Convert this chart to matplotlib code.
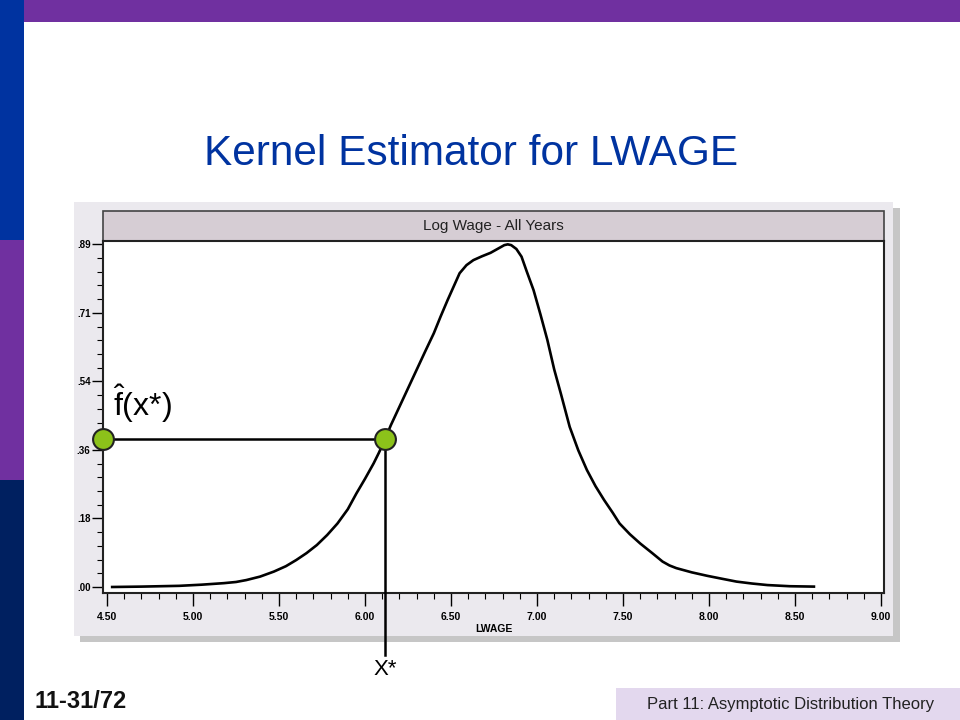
import matplotlib
matplotlib.use("Agg")
import matplotlib.pyplot as plt
from matplotlib.patches import Rectangle
from matplotlib.ticker import MultipleLocator, FixedLocator

plt.rcParams["mathtext.fontset"] = "custom"
plt.rcParams["mathtext.rm"] = "Liberation Sans"
plt.rcParams["mathtext.it"] = "Liberation Sans"

# ---- data ----
lwage = [4.53, 4.70, 4.92, 5.05, 5.18, 5.25, 5.31, 5.39, 5.47, 5.54, 5.60, 5.66,
         5.72, 5.78, 5.84, 5.90, 5.95, 6.00, 6.05, 6.08, 6.11, 6.15, 6.20, 6.25,
         6.30, 6.35, 6.40, 6.44, 6.48, 6.52, 6.55, 6.59, 6.63, 6.68, 6.73, 6.77,
         6.81, 6.83, 6.85, 6.88, 6.91, 6.94, 6.98, 7.02, 7.06, 7.10, 7.14, 7.19,
         7.24, 7.29, 7.34, 7.39, 7.44, 7.48, 7.54, 7.60, 7.67, 7.73, 7.77, 7.81,
         7.90, 7.99, 8.08, 8.16, 8.25, 8.34, 8.47, 8.61]
density = [0.000, 0.001, 0.003, 0.006, 0.010, 0.013, 0.018, 0.027, 0.040, 0.054, 0.070, 0.088,
           0.109, 0.135, 0.165, 0.202, 0.243, 0.281, 0.321, 0.348, 0.377, 0.420, 0.468, 0.516,
           0.564, 0.612, 0.659, 0.703, 0.745, 0.785, 0.815, 0.836, 0.849, 0.859, 0.868, 0.878,
           0.888, 0.890, 0.888, 0.878, 0.858, 0.820, 0.771, 0.708, 0.642, 0.565, 0.500, 0.416,
           0.355, 0.304, 0.262, 0.226, 0.193, 0.165, 0.137, 0.113, 0.088, 0.066, 0.056, 0.049,
           0.038, 0.029, 0.021, 0.014, 0.009, 0.005, 0.002, 0.001]
x_star = 6.116
f_x_star = 0.384
x_ticks = [4.5, 5.0, 5.5, 6.0, 6.5, 7.0, 7.5, 8.0, 8.5, 9.0]
x_tick_labels = ["4.50", "5.00", "5.50", "6.00", "6.50", "7.00", "7.50", "8.00", "8.50", "9.00"]
y_ticks = [0.0, 0.178, 0.356, 0.534, 0.712, 0.89]
y_tick_labels = [".00", ".18", ".36", ".54", ".71", ".89"]

W, H = 960, 720
fig = plt.figure(figsize=(9.6, 7.2), dpi=100)
fig.patch.set_facecolor("white")

def frect(x0, y0, x1, y1, **kw):
    # pixel coords (top-left origin) -> figure rectangle
    r = Rectangle((x0 / W, 1 - y1 / H), (x1 - x0) / W, (y1 - y0) / H,
                  transform=fig.transFigure, **kw)
    fig.patches.append(r)
    return r

# slide decorations
frect(24, 0, 960, 22, facecolor="#7030a0", edgecolor="none", zorder=0)
frect(0, 0, 24, 240, facecolor="#0033a0", edgecolor="none", zorder=0)
frect(0, 240, 24, 480, facecolor="#7030a0", edgecolor="none", zorder=0)
frect(0, 480, 24, 720, facecolor="#002060", edgecolor="none", zorder=0)
frect(616, 688, 960, 720, facecolor="#e3d8ee", edgecolor="none", zorder=0)

# chart panel with shadow
frect(80, 208, 900, 642, facecolor="#a0a0a0", edgecolor="none", zorder=0, alpha=0.6)
frect(74, 202, 893, 636, facecolor="#ebe9ee", edgecolor="none", zorder=0)
frect(103, 211, 884, 241, facecolor="#d6cdd4", edgecolor="#444444", linewidth=1.2, zorder=1)
fig.text(493 / W, 1 - 226 / H, "Log Wage - All Years", ha="center", va="center",
         fontsize=11, family="Liberation Sans", color="#222222")

# title and footer texts
fig.text(471 / W, 1 - 154 / H, "Kernel Estimator for LWAGE", ha="center", va="center",
         fontsize=30.5, family="Liberation Sans", color="#0033a0")
fig.text(35 / W, 1 - 701 / H, "11-31/72", ha="left", va="center",
         fontsize=17, family="Liberation Sans", weight="bold", color="#111111")
fig.text(791 / W, 1 - 705 / H, "Part 11: Asymptotic Distribution Theory", ha="center",
         va="center", fontsize=12, family="Liberation Sans", color="#222222")

# main axes
ax = fig.add_axes([103 / W, 1 - 593 / H, 781 / W, 352 / H])
ax.set_zorder(10)
ax.set_facecolor("white")
ax.plot(lwage, density, color="black", linewidth=1.9, zorder=3,
        solid_joinstyle="round")
ax.set_xlim(4.4767, 9.0174)
ax.set_ylim(-0.0156, 0.8987)

ax.xaxis.set_major_locator(FixedLocator(x_ticks))
ax.xaxis.set_minor_locator(MultipleLocator(0.1))
ax.set_xticklabels(x_tick_labels)
ax.yaxis.set_major_locator(FixedLocator(y_ticks))
ax.yaxis.set_minor_locator(MultipleLocator(0.0356))
ax.set_yticklabels(y_tick_labels)
ax.tick_params(axis="x", which="major", length=9, width=1.0, direction="out", pad=5,
               labelsize=7.5)
ax.tick_params(axis="x", which="minor", length=4, width=0.8, direction="out")
ax.tick_params(axis="y", which="major", length=8, width=1.0, direction="out", pad=1,
               labelsize=7)
ax.tick_params(axis="y", which="minor", length=4, width=0.8, direction="out")
for lab in ax.get_xticklabels() + ax.get_yticklabels():
    lab.set_family(["Liberation Sans Narrow", "Liberation Sans"])
    lab.set_weight("bold")
for s in ax.spines.values():
    s.set_linewidth(1.5)
    s.set_color("#222222")
ax.set_xlabel("LWAGE", fontsize=7.5, weight="bold",
              family=["Liberation Sans Narrow", "Liberation Sans"], labelpad=1)

# annotation: f-hat at x*
x_left = ax.get_xlim()[0]
ax.plot([x_left, x_star], [f_x_star, f_x_star], color="black", linewidth=1.8,
        clip_on=False, zorder=4)
ax.plot([x_star, x_star], [f_x_star, -0.177], color="black", linewidth=1.8,
        clip_on=False, zorder=4)
ax.plot([x_left, x_star], [f_x_star, f_x_star], linestyle="none", marker="o",
        markersize=15, markerfacecolor="#8cc21a", markeredgecolor="#222222",
        markeredgewidth=1.5, clip_on=False, zorder=5)
ax.text(x_star, -0.215, "X*", ha="center", va="center", fontsize=16,
        family="Liberation Sans", clip_on=False)
ax.text(4.535, 0.475, r"$\hat{\mathrm{f}}$(x*)", ha="left", va="center",
        fontsize=23, family="Liberation Sans", clip_on=False)

fig.savefig("out.png", dpi=100)
